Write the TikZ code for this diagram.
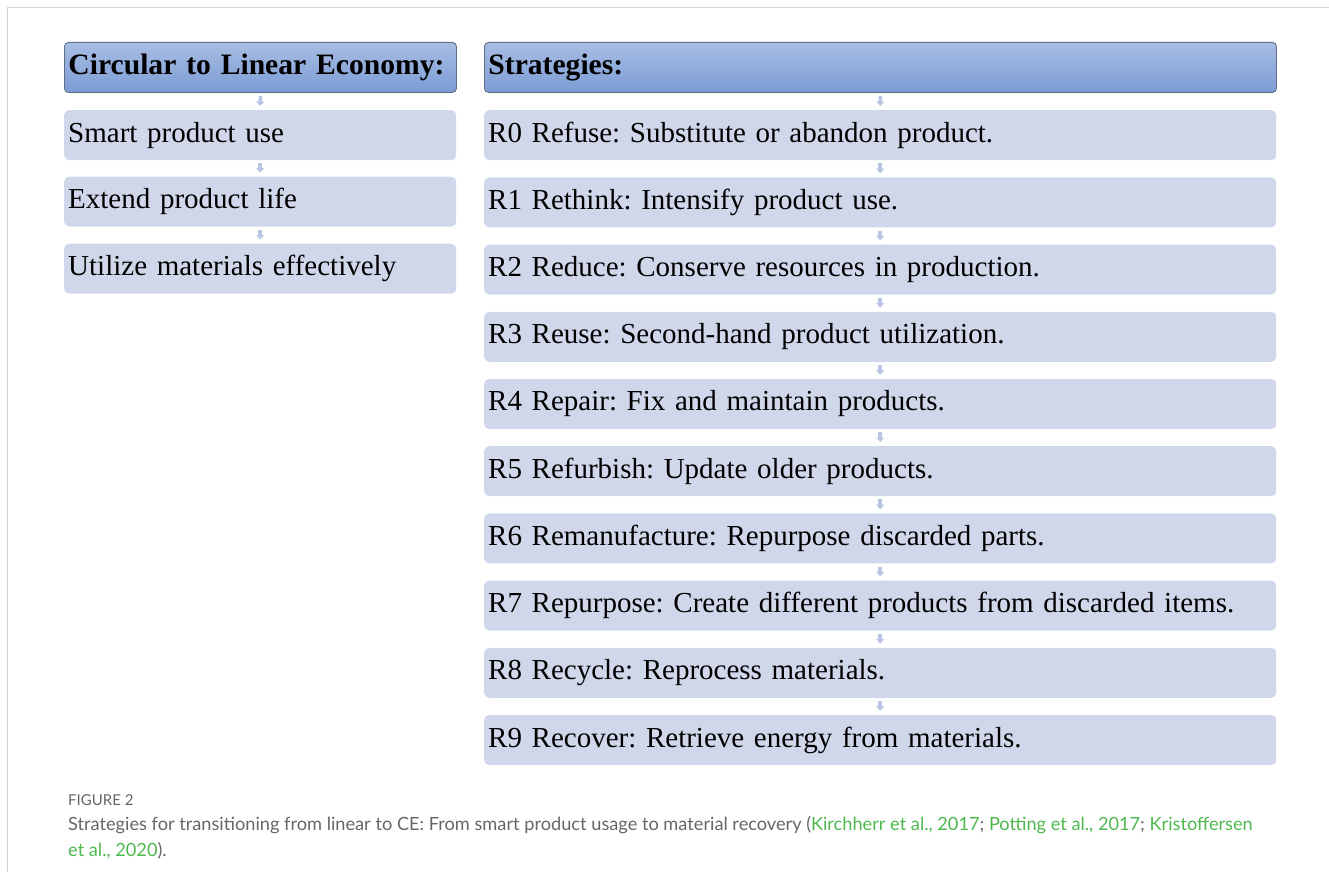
\documentclass[tikz,border=0pt]{standalone}
\usepackage{fontspec}
\setmainfont{Liberation Serif}
\newfontfamily\capfont{Lato}
\usetikzlibrary{arrows.meta}
\frenchspacing
\definecolor{hdtop}{HTML}{A8BDE3}
\definecolor{hdbot}{HTML}{7B9CD6}
\definecolor{hdedge}{HTML}{5F6F8A}
\definecolor{boxfill}{HTML}{D0D7EA}
\definecolor{arrowc}{HTML}{B9C5E2}
\definecolor{capgray}{HTML}{666666}
\definecolor{capgreen}{HTML}{4DB84D}
\definecolor{framec}{HTML}{D4D4D4}
\tikzset{
  hdr/.style={rectangle, rounded corners=4pt, draw=hdedge, line width=0.9pt,
    top color=hdtop, bottom color=hdbot, minimum height=50pt, inner xsep=4pt,
    inner ysep=0pt, align=left, anchor=north west,
    font=\fontsize{29.6}{34}\selectfont\bfseries},
  itm/.style={rectangle, rounded corners=5pt, fill=boxfill, minimum height=50pt,
    inner xsep=4pt, inner ysep=0pt, align=left, anchor=north west,
    font=\fontsize{29}{34}\selectfont},
  lbox/.style={text width=384pt},
  rbox/.style={text width=784pt},
  conn/.style={-{Triangle[width=8pt,length=4.5pt]}, line width=3.5pt, draw=arrowc,
    shorten <=3pt, shorten >=4pt},
  captxt/.style={anchor=base west, inner sep=0pt, font=\capfont\fontsize{18.2}{22}\selectfont, text=capgray}
}
\begin{document}
\begin{tikzpicture}[x=1pt,y=-1pt]
\useasboundingbox (0,0) rectangle (1329,872);
\draw[framec, line width=1.2pt] (7.5,872) -- (7.5,7.5) -- (1329,7.5);

% left column
\node[hdr,lbox] (L0) at (64,42) {Circular to Linear Economy:};
\node[itm,lbox] (L1) at (64,110) {Smart product use};
\node[itm,lbox] (L2) at (64,176.5) {Extend product life};
\node[itm,lbox] (L3) at (64,243.5) {Utilize materials effectively};
\draw[conn] (L0.south) -- (L1.north);
\draw[conn] (L1.south) -- (L2.north);
\draw[conn] (L2.south) -- (L3.north);

% right column
\node[hdr,rbox] (R) at (484,42) {Strategies:};
\foreach \i/\t in {0/{R0 Refuse: Substitute or abandon product.},
                   1/{R1 Rethink: Intensify product use.},
                   2/{R2 Reduce: Conserve resources in production.},
                   3/{R3 Reuse: Second-hand product utilization.},
                   4/{R4 Repair: Fix and maintain products.},
                   5/{R5 Refurbish: Update older products.},
                   6/{R6 Remanufacture: Repurpose discarded parts.},
                   7/{R7 Repurpose: Create different products from discarded items.},
                   8/{R8 Recycle: Reprocess materials.},
                   9/{R9 Recover: Retrieve energy from materials.}}
  {\node[itm,rbox] (R\i) at (484,{110+67.2*\i}) {\t};}
\draw[conn] (R.south) -- (R0.north);
\foreach \a/\b in {0/1,1/2,2/3,3/4,4/5,5/6,6/7,7/8,8/9}
  \draw[conn] (R\a.south) -- (R\b.north);

% caption
\node[captxt, font=\capfont\fontsize{15}{18}\selectfont] (fig) at (68,805) {FIGURE 2};
\node[captxt] (c1) at (68,830) {Strategies for transitioning from linear to CE: From smart product usage to material recovery (\textcolor{capgreen}{Kirchherr et al., 2017}; \textcolor{capgreen}{Potting et al., 2017}; \textcolor{capgreen}{Kristoffersen}};
\node[captxt] (c2) at (68,856) {\textcolor{capgreen}{et al., 2020}).};
\end{tikzpicture}
\end{document}
